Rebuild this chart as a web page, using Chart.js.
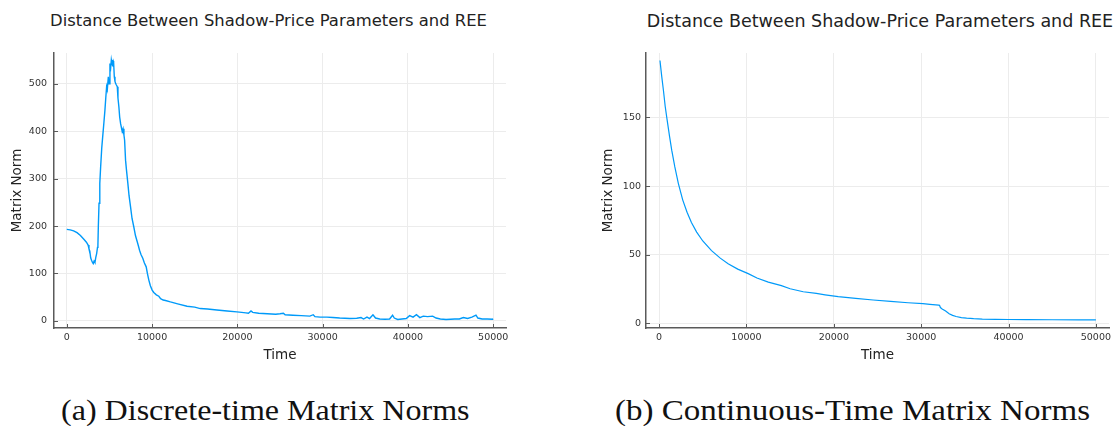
<!DOCTYPE html>
<html>
<head>
<meta charset="utf-8">
<script src="https://cdn.jsdelivr.net/npm/chart.js@4.4.0/dist/chart.umd.min.js"></script>
<style>
    html, body { margin: 0; padding: 0; background: #fff; overflow: hidden; }
    body { width: 1119px; height: 426px; position: relative; }
    canvas { position: absolute; top: 0; }
    .title {
        position: absolute; top: 11px; white-space: nowrap;
        font-family: "DejaVu Sans", sans-serif; color: #222; line-height: 1.2;
        transform: translateX(-50%);
    }
    .caption {
        position: absolute; top: 396px; white-space: nowrap;
        font-family: "Liberation Serif", serif; font-size: 29px; line-height: 1;
        color: #111; transform-origin: left center;
    }
</style>
</head>
<body>
<div class="title" id="titleA" style="left:268.5px;font-size:16.4px">Distance Between Shadow-Price Parameters and REE</div>
<div class="title" id="titleB" style="left:880px;font-size:17.5px">Distance Between Shadow-Price Parameters and REE</div>
<canvas id="chartA" width="530" height="370" style="left:0px"></canvas>
<canvas id="chartB" width="529" height="370" style="left:590px"></canvas>
<div class="caption" id="capA" style="left:61px" data-w="409">(a) Discrete-time Matrix Norms</div>
<div class="caption" id="capB" style="left:615px" data-w="475">(b) Continuous-Time Matrix Norms</div>

<script>
// Discrete-time run: time step and matrix norm
const timeA = [
    0, 400, 800, 1200, 1600, 2000, 2300, 2500, 2600, 2700,
    2800, 2900, 3000, 3100, 3200, 3300, 3400, 3500, 3600, 3650,
    3700, 3780, 3870, 3970, 4100, 4240, 4350, 4470, 4570, 4670,
    4750, 4870, 4950, 5060, 5150, 5220, 5300, 5370, 5450, 5490,
    5570, 5650, 5720, 5800, 5920, 6000, 6110, 6200, 6310, 6400,
    6500, 6600, 6700, 6780, 6890, 7000, 7160, 7300, 7480, 7650,
    7860, 8050, 8260, 8400, 8530, 8700, 8910, 9100, 9310, 9450,
    9620, 9800, 10010, 10200, 10500, 10790, 11000, 11300, 11570, 12150,
    13000, 14100, 15000, 15650, 16500, 17600, 18800, 19940, 20500, 21000,
    21300, 21600, 21800, 22500, 23500, 24500, 25000, 25400, 25600, 26500,
    27500, 28500, 28900, 29100, 29700, 30500, 31200, 32000, 33200, 34000,
    34500, 34800, 35200, 35500, 35900, 36200, 36700, 37300, 37850, 38200,
    38400, 38800, 39300, 39800, 40200, 40600, 41000, 41400, 41800, 42300,
    42900, 43300, 43800, 44470, 45000, 45500, 46030, 46500, 47000, 47500,
    47980, 48200, 48700, 49300, 49920, 50000
];
const normA = [
    193, 192, 190, 186, 180, 172, 166, 160, 152, 147,
    133, 128, 124, 121, 126, 123, 134, 142, 155, 160,
    200, 248, 290, 325, 365, 395, 418, 444, 470, 494,
    488, 515, 500, 543, 535, 550, 541, 539, 548, 546,
    515, 505, 501, 498, 494, 470, 451, 430, 416, 408,
    399, 405, 392, 381, 339, 318, 290, 264, 240, 216,
    198, 180, 167, 158, 149, 140, 132, 122, 114, 100,
    86, 74, 65, 60, 55, 52, 47, 44, 43, 40,
    36, 31, 29, 26, 25, 23, 21, 19, 18, 17,
    16, 21, 18, 16, 15, 14, 15, 16, 13, 12,
    11, 10, 13, 9, 8, 8, 7, 6, 5, 5.5,
    7, 4, 8, 5, 13, 6, 4, 3.5, 4, 12,
    6, 3, 4, 5, 11, 8, 13, 7, 10, 9,
    10, 6, 4, 3, 3.5, 4, 4, 7, 5, 8,
    12, 6, 4, 4, 3.5, 4
];

// Continuous-time run
const timeB = [
    100, 300, 500, 700, 900, 1200, 1450, 1800, 2200, 2700,
    3200, 3700, 4300, 5000, 6000, 7000, 7900, 9000, 10200, 11200,
    12500, 14000, 15000, 16500, 18000, 19000, 20500, 22500, 24500, 26500,
    28500, 30200, 31000, 32000, 32100, 32200, 32400, 32800, 33200, 33600,
    34000, 34600, 35200, 36000, 37000, 38500, 40000, 42000, 45000, 48000,
    50000
];
const normB = [
    191.5, 180, 169.5, 158, 149, 136, 126, 114, 102, 90,
    81, 73.5, 66.5, 60, 53, 47.5, 43.4, 39.5, 36.2, 33,
    30, 27.5, 25.2, 23, 21.8, 20.8, 19.4, 18.2, 17, 16,
    15, 14.3, 13.8, 13.3, 13.1, 11.5, 10.5, 9, 7, 5.8,
    5, 4.2, 3.8, 3.4, 3.1, 2.9, 2.8, 2.7, 2.6, 2.5,
    2.5
];

// Axis ticks
const timeTicks = [0, 10000, 20000, 30000, 40000, 50000];
const normTicksA = [0, 100, 200, 300, 400, 500];
const normTicksB = [0, 50, 100, 150];

const lineColor = '#009af9';
const axisColor = '#5a5a5a';
const gridColor = '#ececec';
const tickFont = { family: 'DejaVu Sans', size: 9.5 };
const labelFont = { family: 'DejaVu Sans', size: 13.5 };

// small inward tick marks like the GR backend draws
const innerTicks = {
    id: 'innerTicks',
    afterDatasetsDraw(chart) {
        const ctx = chart.ctx;
        const area = chart.chartArea;
        ctx.save();
        ctx.strokeStyle = axisColor;
        ctx.lineWidth = 1;
        ctx.beginPath();
        chart.scales.x.ticks.forEach(t => {
            const px = Math.round(chart.scales.x.getPixelForValue(t.value)) + 0.5;
            ctx.moveTo(px, area.bottom);
            ctx.lineTo(px, area.bottom - 4);
        });
        chart.scales.y.ticks.forEach(t => {
            const py = Math.round(chart.scales.y.getPixelForValue(t.value)) + 0.5;
            ctx.moveTo(area.left, py);
            ctx.lineTo(area.left + 4, py);
        });
        ctx.stroke();
        ctx.restore();
    }
};

function makeChart(id, xs, ys, yTicks, yMin, yMax, yWidth, yTitlePad, yTickPad, padRight, lineW) {
    const points = xs.map((x, i) => ({ x: x, y: ys[i] }));
    return new Chart(document.getElementById(id), {
        type: 'line',
        data: {
            datasets: [{
                data: points,
                borderColor: lineColor,
                borderWidth: lineW,
                pointRadius: 0,
                tension: 0,
                fill: false
            }]
        },
        options: {
            responsive: false,
            animation: false,
            layout: { padding: { top: 53, right: padRight, bottom: 0, left: 0 } },
            plugins: { legend: { display: false }, tooltip: { enabled: false } },
            scales: {
                x: {
                    type: 'linear',
                    min: -1500,
                    max: 51500,
                    afterBuildTicks: s => { s.ticks = timeTicks.map(v => ({ value: v })); },
                    afterFit: s => { s.height = 42; },
                    ticks: { font: tickFont, color: '#333', padding: 4, maxRotation: 0, callback: v => String(v) },
                    grid: { color: gridColor, drawTicks: false },
                    border: { color: axisColor, width: 1.5 },
                    title: { display: true, text: 'Time', font: labelFont, color: '#222', padding: { top: 0, bottom: 6 } }
                },
                y: {
                    min: yMin,
                    max: yMax,
                    afterBuildTicks: s => { s.ticks = yTicks.map(v => ({ value: v })); },
                    afterFit: s => { s.width = yWidth; },
                    ticks: { font: tickFont, color: '#333', padding: yTickPad, callback: v => String(v) },
                    grid: { color: gridColor, drawTicks: false },
                    border: { color: axisColor, width: 1.5 },
                    title: { display: true, text: 'Matrix Norm', font: labelFont, color: '#222', padding: { top: yTitlePad, bottom: 0 } }
                }
            }
        },
        plugins: [innerTicks]
    });
}

makeChart('chartA', timeA, normA, normTicksA, -15, 565, 54, 9, 7, 24, 1.4);
makeChart('chartB', timeB, normB, normTicksB, -3.4, 197, 56, 10, 5, 10, 1.2);

// stretch the captions to the width they take in the figure
document.querySelectorAll('.caption').forEach(el => {
    const target = Number(el.dataset.w);
    el.style.transform = 'scaleX(' + (target / el.offsetWidth) + ')';
});
</script>
</body>
</html>
